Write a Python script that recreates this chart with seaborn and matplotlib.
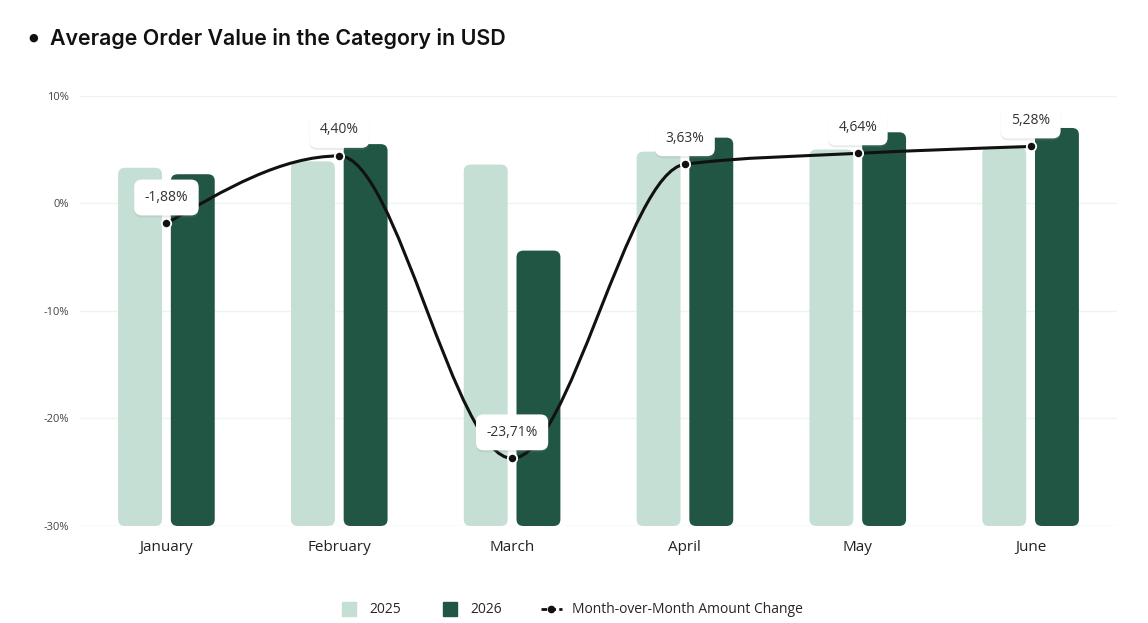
import numpy as np
import pandas as pd
import matplotlib
matplotlib.use("Agg")
import matplotlib.pyplot as plt
import seaborn as sns
from matplotlib.patches import FancyBboxPatch, PathPatch
from matplotlib.path import Path
from matplotlib.lines import Line2D
import matplotlib.patheffects as pe

# Data
months = ["January", "February", "March", "April", "May", "June"]
aov_2025 = [3.3, 3.9, 3.6, 4.8, 5.0, 5.2]
aov_2026 = [2.7, 5.5, -4.4, 6.1, 6.6, 7.0]
mom_change = [-1.88, 4.40, -23.71, 3.63, 4.64, 5.28]
mom_labels = ["-1,88%", "4,40%", "-23,71%", "3,63%", "4,64%", "5,28%"]
y_ticks = [10, 0, -10, -20, -30]

light = "#c5dfd5"
dark = "#215645"

sns.set_theme(style="white")
plt.rcParams["font.family"] = ["Open Sans", "DejaVu Sans"]

df = pd.DataFrame({
    "month": months * 2,
    "value": aov_2025 + aov_2026,
    "year": ["2025"] * 6 + ["2026"] * 6,
})

fig = plt.figure(figsize=(11.48, 6.23), dpi=100)
ax = fig.add_axes([0.0697, 0.1557, 0.9033, 0.6907])

sns.barplot(data=df, x="month", y="value", hue="year", order=months,
            hue_order=["2025", "2026"], palette=[light, dark], saturation=1,
            width=0.61, gap=0.167, legend=False, ax=ax)

ax.set_xlim(-0.5, 5.5)
ax.set_ylim(-30, 10)
base = -30

# swap plain bars for rounded ones that start at the axis floor
bars = list(ax.patches)
for p in bars:
    x, w, h = p.get_x(), p.get_width(), p.get_height()
    col = p.get_facecolor()
    p.remove()
    rb = FancyBboxPatch((x, base), w, h - base,
                        boxstyle="round,pad=0,rounding_size=0.04",
                        mutation_aspect=15.5, facecolor=col,
                        edgecolor="none", zorder=2)
    ax.add_patch(rb)

# grid lines
for t in y_ticks:
    ax.axhline(t, color="#e3e9e6" if t == -30 else "#edf5ef", lw=1, zorder=1)

# smooth monotone line through the MoM points
xs = np.arange(len(mom_change), dtype=float)
ys = np.array(mom_change)
sl = np.diff(ys) / np.diff(xs)
t = np.zeros(len(ys))
for i in range(1, len(ys) - 1):
    s0, s1 = sl[i - 1], sl[i]
    p_ = (s0 + s1) / 2
    t[i] = (np.sign(s0) + np.sign(s1)) * min(abs(s0), abs(s1), 0.5 * abs(p_))
t[0] = (3 * sl[0] - t[1]) / 2
t[-1] = (3 * sl[-1] - t[-2]) / 2
verts = [(xs[0], ys[0])]
codes = [Path.MOVETO]
for i in range(len(ys) - 1):
    dx = (xs[i + 1] - xs[i]) / 3
    verts += [(xs[i] + dx, ys[i] + dx * t[i]),
              (xs[i + 1] - dx, ys[i + 1] - dx * t[i + 1]),
              (xs[i + 1], ys[i + 1])]
    codes += [Path.CURVE4] * 3
ax.add_patch(PathPatch(Path(verts, codes), facecolor="none",
                       edgecolor="#111111", lw=2.2, zorder=3,
                       capstyle="round"))

sns.scatterplot(x=xs, y=ys, s=45, color="#111111", edgecolor="white",
                linewidth=1.3, zorder=6, ax=ax, clip_on=False)

for xi, yi, lab in zip(xs, ys, mom_labels):
    an = ax.annotate(lab, (xi, yi), xytext=(0, 26), textcoords="offset pixels",
                     ha="center", va="center", fontsize=10, color="#333333",
                     zorder=5, annotation_clip=False,
                     bbox=dict(boxstyle="round,pad=0.75,rounding_size=0.55",
                               fc="white", ec="none"))
    an.get_bbox_patch().set_path_effects([
        pe.SimplePatchShadow(offset=(0, -1.5), shadow_rgbFace="#888888", alpha=0.16),
        pe.Normal()])

ax.set_yticks(y_ticks)
ax.set_yticklabels([f"{v}%" for v in y_ticks], fontsize=8, color="#444444")
ax.set_xticks(range(len(months)))
ax.set_xticklabels(months, fontsize=11, color="#222222")
ax.tick_params(axis="y", length=0, pad=8)
ax.tick_params(axis="x", length=0, pad=10)
ax.set_xlabel("")
ax.set_ylabel("")
for s in ax.spines.values():
    s.set_visible(False)

fig.text(0.029, 0.939, "\u25CF", fontsize=8, color="#111111", va="center", ha="center")
fig.text(0.0435, 0.939, "Average Order Value in the Category in USD",
         fontsize=15.4, fontweight="semibold", color="#111111",
         family=["Inter", "DejaVu Sans"], va="center", ha="left")

handles = [
    Line2D([0], [0], marker="s", ls="none", markersize=10, color=light),
    Line2D([0], [0], marker="s", ls="none", markersize=10, color=dark),
    Line2D([0], [0], color="#111111", ls=(0, (2, 1.2)), lw=2, marker="o",
           markersize=4.5),
]
fig.legend(handles, ["2025", "2026", "Month-over-Month Amount Change"],
           loc="center", bbox_to_anchor=(0.497, 0.021), ncol=3, frameon=False,
           fontsize=10, handlelength=1.5, columnspacing=2.8, handletextpad=0.7)

fig.savefig("out.png", dpi=100)
